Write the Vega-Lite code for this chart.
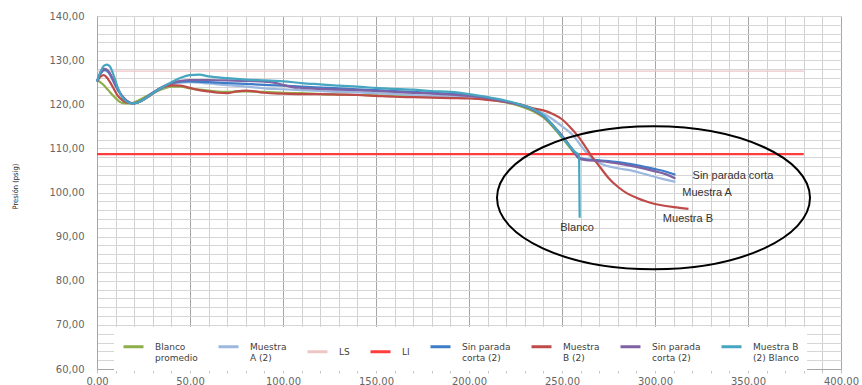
{
  "$schema": "https://vega.github.io/schema/vega-lite/v6.json",
  "width": 744,
  "height": 353,
  "autosize": "none",
  "padding": {"left": 97, "top": 16, "right": 21, "bottom": 16},
  "background": "white",
  "config": {"view": {"stroke": null}, "font": "DejaVu Sans"},
  "datasets": {
    "presion": [
      {"serie": "Blanco promedio", "t": 0, "p": 125.5}, {"serie": "Blanco promedio", "t": 3, "p": 124.6}, {"serie": "Blanco promedio", "t": 6, "p": 123.2}, {"serie": "Blanco promedio", "t": 9, "p": 121.8}, {"serie": "Blanco promedio", "t": 12, "p": 120.6}, {"serie": "Blanco promedio", "t": 15, "p": 120.2}, {"serie": "Blanco promedio", "t": 18, "p": 120.2}, {"serie": "Blanco promedio", "t": 22, "p": 120.8}, {"serie": "Blanco promedio", "t": 26, "p": 121.7}, {"serie": "Blanco promedio", "t": 30, "p": 122.5}, {"serie": "Blanco promedio", "t": 35, "p": 123.4}, {"serie": "Blanco promedio", "t": 40, "p": 124.0}, {"serie": "Blanco promedio", "t": 45, "p": 124.0}, {"serie": "Blanco promedio", "t": 50, "p": 123.6}, {"serie": "Blanco promedio", "t": 55, "p": 123.3}, {"serie": "Blanco promedio", "t": 60, "p": 123.1}, {"serie": "Blanco promedio", "t": 70, "p": 122.8}, {"serie": "Blanco promedio", "t": 80, "p": 122.9}, {"serie": "Blanco promedio", "t": 90, "p": 122.8}, {"serie": "Blanco promedio", "t": 100, "p": 122.6}, {"serie": "Blanco promedio", "t": 110, "p": 122.5}, {"serie": "Blanco promedio", "t": 120, "p": 122.3}, {"serie": "Blanco promedio", "t": 130, "p": 122.2}, {"serie": "Blanco promedio", "t": 140, "p": 122.1}, {"serie": "Blanco promedio", "t": 150, "p": 122.0}, {"serie": "Blanco promedio", "t": 160, "p": 121.9}, {"serie": "Blanco promedio", "t": 170, "p": 121.8}, {"serie": "Blanco promedio", "t": 180, "p": 121.7}, {"serie": "Blanco promedio", "t": 190, "p": 121.6}, {"serie": "Blanco promedio", "t": 200, "p": 121.5}, {"serie": "Blanco promedio", "t": 210, "p": 121.1}, {"serie": "Blanco promedio", "t": 220, "p": 120.4}, {"serie": "Blanco promedio", "t": 228, "p": 119.5}, {"serie": "Blanco promedio", "t": 235, "p": 118.3}, {"serie": "Blanco promedio", "t": 240, "p": 117.0}, {"serie": "Blanco promedio", "t": 245, "p": 114.9}, {"serie": "Blanco promedio", "t": 250, "p": 112.4}, {"serie": "Blanco promedio", "t": 254, "p": 110.3}, {"serie": "Blanco promedio", "t": 257, "p": 108.7}, {"serie": "Blanco promedio", "t": 259, "p": 107.9},

      {"serie": "Muestra A (2)", "t": 0, "p": 125.2}, {"serie": "Muestra A (2)", "t": 2, "p": 127.0}, {"serie": "Muestra A (2)", "t": 4, "p": 127.6}, {"serie": "Muestra A (2)", "t": 6, "p": 127.2}, {"serie": "Muestra A (2)", "t": 8, "p": 125.8}, {"serie": "Muestra A (2)", "t": 10, "p": 124.0}, {"serie": "Muestra A (2)", "t": 13, "p": 122.0}, {"serie": "Muestra A (2)", "t": 16, "p": 120.7}, {"serie": "Muestra A (2)", "t": 19, "p": 120.2}, {"serie": "Muestra A (2)", "t": 22, "p": 120.4}, {"serie": "Muestra A (2)", "t": 26, "p": 121.3}, {"serie": "Muestra A (2)", "t": 30, "p": 122.4}, {"serie": "Muestra A (2)", "t": 35, "p": 123.6}, {"serie": "Muestra A (2)", "t": 40, "p": 124.5}, {"serie": "Muestra A (2)", "t": 45, "p": 124.9}, {"serie": "Muestra A (2)", "t": 50, "p": 125.0}, {"serie": "Muestra A (2)", "t": 60, "p": 124.7}, {"serie": "Muestra A (2)", "t": 70, "p": 124.3}, {"serie": "Muestra A (2)", "t": 80, "p": 124.0}, {"serie": "Muestra A (2)", "t": 90, "p": 123.6}, {"serie": "Muestra A (2)", "t": 100, "p": 123.4}, {"serie": "Muestra A (2)", "t": 110, "p": 123.2}, {"serie": "Muestra A (2)", "t": 120, "p": 123.0}, {"serie": "Muestra A (2)", "t": 130, "p": 122.8}, {"serie": "Muestra A (2)", "t": 140, "p": 122.7}, {"serie": "Muestra A (2)", "t": 150, "p": 122.5}, {"serie": "Muestra A (2)", "t": 160, "p": 122.3}, {"serie": "Muestra A (2)", "t": 170, "p": 122.1}, {"serie": "Muestra A (2)", "t": 180, "p": 121.9}, {"serie": "Muestra A (2)", "t": 190, "p": 121.8}, {"serie": "Muestra A (2)", "t": 200, "p": 121.6}, {"serie": "Muestra A (2)", "t": 210, "p": 121.2}, {"serie": "Muestra A (2)", "t": 220, "p": 120.5}, {"serie": "Muestra A (2)", "t": 228, "p": 119.8}, {"serie": "Muestra A (2)", "t": 235, "p": 118.9}, {"serie": "Muestra A (2)", "t": 240, "p": 117.9}, {"serie": "Muestra A (2)", "t": 245, "p": 116.6}, {"serie": "Muestra A (2)", "t": 250, "p": 115.0}, {"serie": "Muestra A (2)", "t": 256, "p": 112.9}, {"serie": "Muestra A (2)", "t": 260, "p": 110.7}, {"serie": "Muestra A (2)", "t": 263, "p": 109.1}, {"serie": "Muestra A (2)", "t": 267, "p": 107.5}, {"serie": "Muestra A (2)", "t": 271, "p": 106.5}, {"serie": "Muestra A (2)", "t": 280, "p": 105.5}, {"serie": "Muestra A (2)", "t": 287, "p": 105.0}, {"serie": "Muestra A (2)", "t": 295, "p": 104.1}, {"serie": "Muestra A (2)", "t": 303, "p": 103.2}, {"serie": "Muestra A (2)", "t": 311, "p": 102.4},

      {"serie": "LS", "t": 0, "p": 127.5}, {"serie": "LS", "t": 380, "p": 127.5},
      {"serie": "LI", "t": 0, "p": 108.7}, {"serie": "LI", "t": 380, "p": 108.7},

      {"serie": "Sin parada corta (2)", "t": 0, "p": 125.2}, {"serie": "Sin parada corta (2)", "t": 2, "p": 127.0}, {"serie": "Sin parada corta (2)", "t": 4, "p": 127.8}, {"serie": "Sin parada corta (2)", "t": 6, "p": 127.4}, {"serie": "Sin parada corta (2)", "t": 8, "p": 126.0}, {"serie": "Sin parada corta (2)", "t": 10, "p": 124.2}, {"serie": "Sin parada corta (2)", "t": 13, "p": 122.1}, {"serie": "Sin parada corta (2)", "t": 16, "p": 120.7}, {"serie": "Sin parada corta (2)", "t": 19, "p": 120.2}, {"serie": "Sin parada corta (2)", "t": 22, "p": 120.4}, {"serie": "Sin parada corta (2)", "t": 26, "p": 121.4}, {"serie": "Sin parada corta (2)", "t": 30, "p": 122.6}, {"serie": "Sin parada corta (2)", "t": 35, "p": 123.8}, {"serie": "Sin parada corta (2)", "t": 40, "p": 124.7}, {"serie": "Sin parada corta (2)", "t": 45, "p": 125.1}, {"serie": "Sin parada corta (2)", "t": 50, "p": 125.2}, {"serie": "Sin parada corta (2)", "t": 60, "p": 125.0}, {"serie": "Sin parada corta (2)", "t": 70, "p": 124.8}, {"serie": "Sin parada corta (2)", "t": 80, "p": 124.6}, {"serie": "Sin parada corta (2)", "t": 90, "p": 124.4}, {"serie": "Sin parada corta (2)", "t": 100, "p": 124.2}, {"serie": "Sin parada corta (2)", "t": 110, "p": 124.0}, {"serie": "Sin parada corta (2)", "t": 120, "p": 123.8}, {"serie": "Sin parada corta (2)", "t": 130, "p": 123.6}, {"serie": "Sin parada corta (2)", "t": 140, "p": 123.4}, {"serie": "Sin parada corta (2)", "t": 150, "p": 123.2}, {"serie": "Sin parada corta (2)", "t": 160, "p": 123.0}, {"serie": "Sin parada corta (2)", "t": 170, "p": 122.8}, {"serie": "Sin parada corta (2)", "t": 180, "p": 122.6}, {"serie": "Sin parada corta (2)", "t": 190, "p": 122.4}, {"serie": "Sin parada corta (2)", "t": 200, "p": 122.0}, {"serie": "Sin parada corta (2)", "t": 210, "p": 121.4}, {"serie": "Sin parada corta (2)", "t": 220, "p": 120.6}, {"serie": "Sin parada corta (2)", "t": 228, "p": 119.8}, {"serie": "Sin parada corta (2)", "t": 235, "p": 118.7}, {"serie": "Sin parada corta (2)", "t": 240, "p": 117.4}, {"serie": "Sin parada corta (2)", "t": 245, "p": 115.3}, {"serie": "Sin parada corta (2)", "t": 250, "p": 112.9}, {"serie": "Sin parada corta (2)", "t": 254, "p": 110.7}, {"serie": "Sin parada corta (2)", "t": 257, "p": 108.9}, {"serie": "Sin parada corta (2)", "t": 259, "p": 107.9}, {"serie": "Sin parada corta (2)", "t": 262, "p": 107.6}, {"serie": "Sin parada corta (2)", "t": 270, "p": 107.3}, {"serie": "Sin parada corta (2)", "t": 280, "p": 106.9}, {"serie": "Sin parada corta (2)", "t": 290, "p": 106.2}, {"serie": "Sin parada corta (2)", "t": 300, "p": 105.3}, {"serie": "Sin parada corta (2)", "t": 306, "p": 104.7}, {"serie": "Sin parada corta (2)", "t": 311, "p": 104.0},

      {"serie": "Muestra B (2)", "t": 0, "p": 125.2}, {"serie": "Muestra B (2)", "t": 2, "p": 126.3}, {"serie": "Muestra B (2)", "t": 3.5, "p": 126.6}, {"serie": "Muestra B (2)", "t": 5, "p": 126.2}, {"serie": "Muestra B (2)", "t": 7, "p": 125.0}, {"serie": "Muestra B (2)", "t": 9, "p": 123.5}, {"serie": "Muestra B (2)", "t": 11, "p": 122.0}, {"serie": "Muestra B (2)", "t": 14, "p": 120.8}, {"serie": "Muestra B (2)", "t": 17, "p": 120.3}, {"serie": "Muestra B (2)", "t": 20, "p": 120.2}, {"serie": "Muestra B (2)", "t": 24, "p": 120.8}, {"serie": "Muestra B (2)", "t": 28, "p": 121.8}, {"serie": "Muestra B (2)", "t": 32, "p": 123.0}, {"serie": "Muestra B (2)", "t": 36, "p": 123.9}, {"serie": "Muestra B (2)", "t": 40, "p": 124.3}, {"serie": "Muestra B (2)", "t": 45, "p": 124.2}, {"serie": "Muestra B (2)", "t": 50, "p": 123.7}, {"serie": "Muestra B (2)", "t": 55, "p": 123.2}, {"serie": "Muestra B (2)", "t": 60, "p": 122.9}, {"serie": "Muestra B (2)", "t": 65, "p": 122.6}, {"serie": "Muestra B (2)", "t": 70, "p": 122.5}, {"serie": "Muestra B (2)", "t": 75, "p": 122.9}, {"serie": "Muestra B (2)", "t": 80, "p": 123.1}, {"serie": "Muestra B (2)", "t": 85, "p": 122.9}, {"serie": "Muestra B (2)", "t": 90, "p": 122.6}, {"serie": "Muestra B (2)", "t": 100, "p": 122.4}, {"serie": "Muestra B (2)", "t": 110, "p": 122.3}, {"serie": "Muestra B (2)", "t": 120, "p": 122.3}, {"serie": "Muestra B (2)", "t": 130, "p": 122.2}, {"serie": "Muestra B (2)", "t": 140, "p": 122.1}, {"serie": "Muestra B (2)", "t": 150, "p": 121.9}, {"serie": "Muestra B (2)", "t": 160, "p": 121.7}, {"serie": "Muestra B (2)", "t": 170, "p": 121.6}, {"serie": "Muestra B (2)", "t": 180, "p": 121.5}, {"serie": "Muestra B (2)", "t": 190, "p": 121.4}, {"serie": "Muestra B (2)", "t": 200, "p": 121.3}, {"serie": "Muestra B (2)", "t": 210, "p": 121.0}, {"serie": "Muestra B (2)", "t": 220, "p": 120.5}, {"serie": "Muestra B (2)", "t": 228, "p": 119.9}, {"serie": "Muestra B (2)", "t": 235, "p": 119.0}, {"serie": "Muestra B (2)", "t": 240, "p": 118.6}, {"serie": "Muestra B (2)", "t": 245, "p": 117.8}, {"serie": "Muestra B (2)", "t": 250, "p": 116.6}, {"serie": "Muestra B (2)", "t": 255, "p": 114.5}, {"serie": "Muestra B (2)", "t": 260, "p": 112.0}, {"serie": "Muestra B (2)", "t": 263, "p": 110.1}, {"serie": "Muestra B (2)", "t": 266, "p": 108.2}, {"serie": "Muestra B (2)", "t": 270, "p": 106.0}, {"serie": "Muestra B (2)", "t": 275, "p": 103.3}, {"serie": "Muestra B (2)", "t": 280, "p": 101.3}, {"serie": "Muestra B (2)", "t": 285, "p": 99.8}, {"serie": "Muestra B (2)", "t": 290, "p": 98.8}, {"serie": "Muestra B (2)", "t": 295, "p": 98.0}, {"serie": "Muestra B (2)", "t": 300, "p": 97.4}, {"serie": "Muestra B (2)", "t": 305, "p": 97.0}, {"serie": "Muestra B (2)", "t": 310, "p": 96.7}, {"serie": "Muestra B (2)", "t": 318, "p": 96.3},

      {"serie": "Sin parada corta (2) b", "t": 0, "p": 125.2}, {"serie": "Sin parada corta (2) b", "t": 2, "p": 127.2}, {"serie": "Sin parada corta (2) b", "t": 4, "p": 128.0}, {"serie": "Sin parada corta (2) b", "t": 6, "p": 127.6}, {"serie": "Sin parada corta (2) b", "t": 8, "p": 126.2}, {"serie": "Sin parada corta (2) b", "t": 10, "p": 124.4}, {"serie": "Sin parada corta (2) b", "t": 13, "p": 122.2}, {"serie": "Sin parada corta (2) b", "t": 16, "p": 120.8}, {"serie": "Sin parada corta (2) b", "t": 19, "p": 120.2}, {"serie": "Sin parada corta (2) b", "t": 22, "p": 120.4}, {"serie": "Sin parada corta (2) b", "t": 26, "p": 121.4}, {"serie": "Sin parada corta (2) b", "t": 30, "p": 122.6}, {"serie": "Sin parada corta (2) b", "t": 35, "p": 123.9}, {"serie": "Sin parada corta (2) b", "t": 40, "p": 124.8}, {"serie": "Sin parada corta (2) b", "t": 45, "p": 125.3}, {"serie": "Sin parada corta (2) b", "t": 50, "p": 125.5}, {"serie": "Sin parada corta (2) b", "t": 60, "p": 125.5}, {"serie": "Sin parada corta (2) b", "t": 70, "p": 125.4}, {"serie": "Sin parada corta (2) b", "t": 80, "p": 125.3}, {"serie": "Sin parada corta (2) b", "t": 90, "p": 125.1}, {"serie": "Sin parada corta (2) b", "t": 95, "p": 124.9}, {"serie": "Sin parada corta (2) b", "t": 100, "p": 124.4}, {"serie": "Sin parada corta (2) b", "t": 105, "p": 123.9}, {"serie": "Sin parada corta (2) b", "t": 110, "p": 123.7}, {"serie": "Sin parada corta (2) b", "t": 120, "p": 123.5}, {"serie": "Sin parada corta (2) b", "t": 130, "p": 123.3}, {"serie": "Sin parada corta (2) b", "t": 140, "p": 123.2}, {"serie": "Sin parada corta (2) b", "t": 150, "p": 123.0}, {"serie": "Sin parada corta (2) b", "t": 160, "p": 122.8}, {"serie": "Sin parada corta (2) b", "t": 170, "p": 122.6}, {"serie": "Sin parada corta (2) b", "t": 180, "p": 122.4}, {"serie": "Sin parada corta (2) b", "t": 190, "p": 122.2}, {"serie": "Sin parada corta (2) b", "t": 200, "p": 121.9}, {"serie": "Sin parada corta (2) b", "t": 210, "p": 121.4}, {"serie": "Sin parada corta (2) b", "t": 220, "p": 120.6}, {"serie": "Sin parada corta (2) b", "t": 228, "p": 119.8}, {"serie": "Sin parada corta (2) b", "t": 235, "p": 118.6}, {"serie": "Sin parada corta (2) b", "t": 240, "p": 117.3}, {"serie": "Sin parada corta (2) b", "t": 245, "p": 115.2}, {"serie": "Sin parada corta (2) b", "t": 250, "p": 112.8}, {"serie": "Sin parada corta (2) b", "t": 254, "p": 110.6}, {"serie": "Sin parada corta (2) b", "t": 257, "p": 108.8}, {"serie": "Sin parada corta (2) b", "t": 259, "p": 107.7}, {"serie": "Sin parada corta (2) b", "t": 262, "p": 107.4}, {"serie": "Sin parada corta (2) b", "t": 270, "p": 107.1}, {"serie": "Sin parada corta (2) b", "t": 280, "p": 106.6}, {"serie": "Sin parada corta (2) b", "t": 290, "p": 105.8}, {"serie": "Sin parada corta (2) b", "t": 300, "p": 104.8}, {"serie": "Sin parada corta (2) b", "t": 306, "p": 104.1}, {"serie": "Sin parada corta (2) b", "t": 311, "p": 103.2},

      {"serie": "Muestra B (2) Blanco", "t": 0, "p": 125.2}, {"serie": "Muestra B (2) Blanco", "t": 2, "p": 127.5}, {"serie": "Muestra B (2) Blanco", "t": 4, "p": 128.8}, {"serie": "Muestra B (2) Blanco", "t": 5.5, "p": 129.0}, {"serie": "Muestra B (2) Blanco", "t": 7, "p": 128.5}, {"serie": "Muestra B (2) Blanco", "t": 9, "p": 126.5}, {"serie": "Muestra B (2) Blanco", "t": 11, "p": 124.0}, {"serie": "Muestra B (2) Blanco", "t": 13, "p": 122.0}, {"serie": "Muestra B (2) Blanco", "t": 16, "p": 120.6}, {"serie": "Muestra B (2) Blanco", "t": 19, "p": 120.2}, {"serie": "Muestra B (2) Blanco", "t": 22, "p": 120.4}, {"serie": "Muestra B (2) Blanco", "t": 26, "p": 121.3}, {"serie": "Muestra B (2) Blanco", "t": 30, "p": 122.5}, {"serie": "Muestra B (2) Blanco", "t": 35, "p": 123.8}, {"serie": "Muestra B (2) Blanco", "t": 40, "p": 125.0}, {"serie": "Muestra B (2) Blanco", "t": 45, "p": 126.0}, {"serie": "Muestra B (2) Blanco", "t": 50, "p": 126.6}, {"serie": "Muestra B (2) Blanco", "t": 55, "p": 126.7}, {"serie": "Muestra B (2) Blanco", "t": 60, "p": 126.3}, {"serie": "Muestra B (2) Blanco", "t": 70, "p": 125.9}, {"serie": "Muestra B (2) Blanco", "t": 80, "p": 125.6}, {"serie": "Muestra B (2) Blanco", "t": 90, "p": 125.4}, {"serie": "Muestra B (2) Blanco", "t": 100, "p": 125.2}, {"serie": "Muestra B (2) Blanco", "t": 110, "p": 124.8}, {"serie": "Muestra B (2) Blanco", "t": 120, "p": 124.5}, {"serie": "Muestra B (2) Blanco", "t": 130, "p": 124.2}, {"serie": "Muestra B (2) Blanco", "t": 140, "p": 124.0}, {"serie": "Muestra B (2) Blanco", "t": 150, "p": 123.7}, {"serie": "Muestra B (2) Blanco", "t": 160, "p": 123.5}, {"serie": "Muestra B (2) Blanco", "t": 170, "p": 123.3}, {"serie": "Muestra B (2) Blanco", "t": 180, "p": 123.0}, {"serie": "Muestra B (2) Blanco", "t": 190, "p": 122.8}, {"serie": "Muestra B (2) Blanco", "t": 200, "p": 122.3}, {"serie": "Muestra B (2) Blanco", "t": 210, "p": 121.6}, {"serie": "Muestra B (2) Blanco", "t": 220, "p": 120.8}, {"serie": "Muestra B (2) Blanco", "t": 228, "p": 119.9}, {"serie": "Muestra B (2) Blanco", "t": 235, "p": 118.8}, {"serie": "Muestra B (2) Blanco", "t": 240, "p": 117.5}, {"serie": "Muestra B (2) Blanco", "t": 245, "p": 115.3}, {"serie": "Muestra B (2) Blanco", "t": 250, "p": 112.6}, {"serie": "Muestra B (2) Blanco", "t": 254, "p": 110.6}, {"serie": "Muestra B (2) Blanco", "t": 257, "p": 109.2}, {"serie": "Muestra B (2) Blanco", "t": 259.2, "p": 108.4}, {"serie": "Muestra B (2) Blanco", "t": 259.5, "p": 94.3}
    ],
    "zona": [{"t": 299.2, "p": 98.8}],
    "notas": [
      {"nota": "Sin parada corta", "t": 341.9, "p": 103.7},
      {"nota": "Muestra A", "t": 328.0, "p": 99.9},
      {"nota": "Muestra B", "t": 317.7, "p": 94.0},
      {"nota": "Blanco", "t": 258.1, "p": 91.9}
    ]
  },
  "layer": [
    {
      "data": {"name": "presion"},
      "mark": {"type": "line", "interpolate": "monotone"},
      "encoding": {
        "x": {
          "field": "t", "type": "quantitative",
          "scale": {"domain": [0, 400], "nice": false, "zero": false},
          "axis": {
            "title": null,
            "values": [0, 10, 20, 30, 40, 50, 60, 70, 80, 90, 100, 110, 120, 130, 140, 150, 160, 170, 180, 190, 200, 210, 220, 230, 240, 250, 260, 270, 280, 290, 300, 310, 320, 330, 340, 350, 360, 370, 380, 390, 400],
            "tickCount": 200,
            "labelExpr": "datum.value % 50 === 0 ? format(datum.value, '.2f') : ''",
            "labelOverlap": false,
            "labelFlush": false,
            "labelFont": "DejaVu Sans",
            "labelFontSize": 10,
            "labelColor": "#666666",
            "labelPadding": 3,
            "tickSize": 4,
            "tickColor": "#c4c4c4",
            "domainColor": "#a6a6a6",
            "gridColor": {"condition": {"test": "datum.value % 50 === 0", "value": "#a6a6a6"}, "value": "#d0d0d0"},
            "gridOpacity": 1
          }
        },
        "y": {
          "field": "p", "type": "quantitative",
          "scale": {"domain": [60, 140], "nice": false, "zero": false},
          "axis": {
            "title": "Presión (psig)",
            "values": [60, 62, 64, 66, 68, 70, 72, 74, 76, 78, 80, 82, 84, 86, 88, 90, 92, 94, 96, 98, 100, 102, 104, 106, 108, 110, 112, 114, 116, 118, 120, 122, 124, 126, 128, 130, 132, 134, 136, 138, 140],
            "tickCount": 200,
            "labelExpr": "datum.value % 10 === 0 ? replace(format(datum.value, '.2f'), '.', ',') : ''",
            "labelOverlap": false,
            "labelFlush": false,
            "labelFont": "DejaVu Sans",
            "labelFontSize": 10,
            "labelColor": "#666666",
            "labelPadding": 13,
            "ticks": false,
            "domainColor": "#a6a6a6",
            "gridColor": "#d6d6d6",
            "titleFont": "DejaVu Sans Condensed, Liberation Sans Narrow, sans-serif",
            "titleFontSize": 7.5,
            "titleFontWeight": "normal",
            "titleColor": "#1f1f1f",
            "titleAngle": -90,
            "titleAlign": "center",
            "titleBaseline": "middle",
            "titleX": -82,
            "titleY": 170
          }
        },
        "color": {
          "field": "serie", "type": "nominal",
          "scale": {
            "domain": ["Blanco promedio", "Muestra A (2)", "LS", "LI", "Sin parada corta (2)", "Muestra B (2)", "Sin parada corta (2) b", "Muestra B (2) Blanco"],
            "range": ["#8EAE4A", "#9DB8DF", "#EDC6C5", "#FF3D3D", "#3F7CC8", "#BE4B48", "#7E62A3", "#46A5C1"]
          },
          "legend": {
            "title": null,
            "orient": "none",
            "legendX": 17,
            "legendY": 311,
            "direction": "horizontal",
            "columns": 8,
            "symbolType": "stroke",
            "symbolSize": 400,
            "symbolStrokeWidth": 3,
            "labelFont": "DejaVu Sans",
            "labelFontSize": 9,
            "labelColor": "#404040",
            "labelOffset": 10,
            "labelLimit": 0,
            "columnPadding": 14,
            "fillColor": "white",
            "padding": 8,
            "labelExpr": "datum.value === 'Blanco promedio' ? ['Blanco', 'promedio'] : datum.value === 'Muestra A (2)' ? ['Muestra', 'A (2)'] : (datum.value === 'Sin parada corta (2)' || datum.value === 'Sin parada corta (2) b') ? ['Sin parada', 'corta (2)'] : datum.value === 'Muestra B (2)' ? ['Muestra', 'B (2)'] : datum.value === 'Muestra B (2) Blanco' ? ['Muestra B', '(2) Blanco'] : datum.value"
          }
        },
        "strokeWidth": {
          "condition": {"test": "datum.serie === 'LS'", "value": 1.2},
          "value": 2.2
        }
      }
    },
    {
      "data": {"name": "zona"},
      "mark": {
        "type": "point",
        "shape": "M -1 0 A 1 0.457 0 0 1 1 0 A 1 0.457 0 0 1 -1 0 Z",
        "size": 97969,
        "filled": false,
        "stroke": "black",
        "strokeWidth": 2,
        "opacity": 1
      },
      "encoding": {
        "x": {"field": "t", "type": "quantitative"},
        "y": {"field": "p", "type": "quantitative"}
      }
    },
    {
      "data": {"name": "notas"},
      "mark": {"type": "text", "font": "Liberation Sans", "fontSize": 11, "color": "#333333", "align": "center", "baseline": "middle"},
      "encoding": {
        "x": {"field": "t", "type": "quantitative"},
        "y": {"field": "p", "type": "quantitative"},
        "text": {"field": "nota"}
      }
    }
  ]
}
